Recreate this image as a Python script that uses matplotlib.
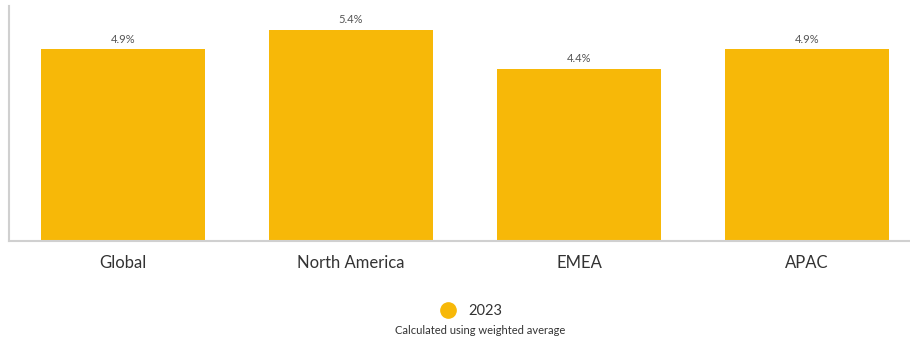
import matplotlib
matplotlib.use("Agg")
import matplotlib.pyplot as plt
from matplotlib.lines import Line2D

categories = ["Global", "North America", "EMEA", "APAC"]
values_2023 = [4.9, 5.4, 4.4, 4.9]
series_name = "2023"
note = "Calculated using weighted average"

bar_color = "#F7B808"
text_color = "#333333"
label_color = "#555555"

plt.rcParams["font.family"] = ["Lato", "DejaVu Sans"]

W, H = 910, 339
fig = plt.figure(figsize=(W / 100, H / 100), dpi=100)
ax = fig.add_axes([9 / W, (H - 241) / H, (910 - 9) / W, 235 / H])

x = range(len(categories))
bars = ax.bar(x, values_2023, width=0.72, color=bar_color, zorder=2)

for rect, v in zip(bars, values_2023):
    ax.annotate(f"{v:.1f}%", (rect.get_x() + rect.get_width() / 2, v),
                xytext=(0, 3), textcoords="offset points",
                ha="center", va="bottom", fontsize=8, color=label_color)

ax.set_xlim(-0.5, 3.5 - 11 / 228)
ax.set_ylim(0, 6.0)
ax.set_xticks(list(x))
ax.set_xticklabels(categories, fontsize=12, color=text_color)
ax.tick_params(axis="x", length=0, pad=10)
ax.set_yticks([])

for side in ("top", "right"):
    ax.spines[side].set_visible(False)
for side in ("left", "bottom"):
    ax.spines[side].set_color("#d0d0d0")
    ax.spines[side].set_linewidth(1.5)

handle = Line2D([], [], marker="o", linestyle="none", markersize=11,
                markerfacecolor=bar_color, markeredgecolor=bar_color)
fig.legend([handle], [series_name], loc="center", bbox_to_anchor=(468 / W, 1 - 311 / H),
           frameon=False, fontsize=10.5, handletextpad=0.4, labelcolor=text_color)

fig.text(480 / W, 1 - 330 / H, note, ha="center", va="center", fontsize=8, color=text_color)

fig.savefig("out.png", dpi=100)
